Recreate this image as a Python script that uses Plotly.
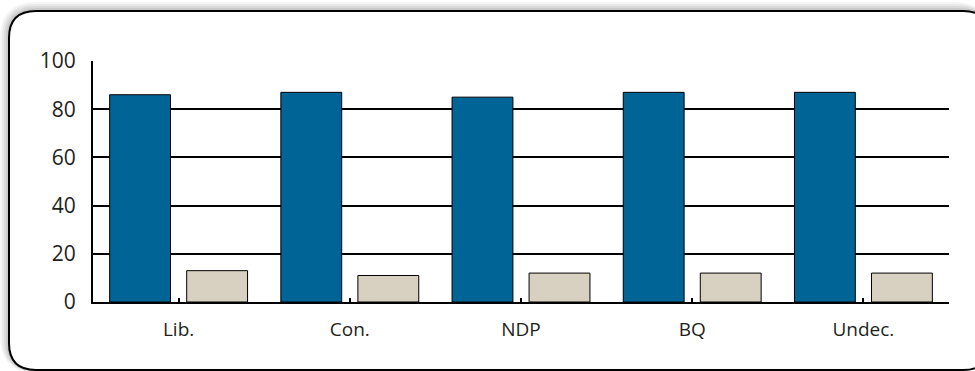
import plotly.graph_objects as go

# Party categories and the two response series
categories = ["Lib.", "Con.", "NDP", "BQ", "Undec."]
series_a = [86, 87, 85, 87, 87]
series_b = [13, 11, 12, 12, 12]

W, H = 975, 371
L, R, T, B = 93, 26, 61, 69
PW, PH = W - L - R, H - T - B


def px(x, y):
    """Convert pixel position to paper coordinates."""
    return (x - L) / PW, (H - B - y) / PH


def rounded_rect(x0, y0, x1, y1, r):
    def p(x, y):
        a, b = px(x, y)
        return f"{a:.5f},{b:.5f}"
    d = f"M {p(x0 + r, y0)} L {p(x1 - r, y0)} Q {p(x1, y0)} {p(x1, y0 + r)} "
    d += f"L {p(x1, y1 - r)} Q {p(x1, y1)} {p(x1 - r, y1)} "
    d += f"L {p(x0 + r, y1)} Q {p(x0, y1)} {p(x0, y1 - r)} "
    d += f"L {p(x0, y0 + r)} Q {p(x0, y0)} {p(x0 + r, y0)} Z"
    return d


fig = go.Figure()
fig.add_trace(go.Bar(x=categories, y=series_a, marker=dict(color="#006496", line=dict(color="#000", width=1))))
fig.add_trace(go.Bar(x=categories, y=series_b, marker=dict(color="#D8D1C2", line=dict(color="#000", width=1))))

shapes = []
# soft shadow around the frame
for i, op in enumerate([0.04, 0.05, 0.06, 0.07, 0.09]):
    o = 9 - i * 2
    shapes.append(dict(type="path", xref="paper", yref="paper", layer="below",
                       path=rounded_rect(9 - o, 11 - o, 990, 370 + o * 0.3, 27 + o),
                       fillcolor=f"rgba(0,0,0,{op})", line=dict(width=0)))
shapes.append(dict(type="path", xref="paper", yref="paper", layer="below",
                   path=rounded_rect(9, 11, 990, 370, 27),
                   fillcolor="white", line=dict(color="#000", width=2)))

fig.update_layout(
    width=W, height=H,
    margin=dict(l=L, r=R, t=T, b=B),
    paper_bgcolor="white",
    plot_bgcolor="rgba(0,0,0,0)",
    showlegend=False,
    barmode="group",
    bargap=0.1,
    bargroupgap=0.21,
    font=dict(family="Open Sans", color="#231F20"),
    shapes=shapes,
    xaxis=dict(showline=True, linecolor="#000", linewidth=2, showgrid=False,
               ticks="inside", ticklen=4, tickwidth=2, tickcolor="#000",
               tickfont=dict(size=19), ticklabelstandoff=9),
    yaxis=dict(range=[0, 100], tickvals=[0, 20, 40, 60, 80, 100],
               showline=True, linecolor="#000", linewidth=2,
               showgrid=True, gridcolor="#000", gridwidth=2, zeroline=False,
               ticks="", tickfont=dict(size=21), ticklabelstandoff=11),
)

fig.write_html("out.html")
